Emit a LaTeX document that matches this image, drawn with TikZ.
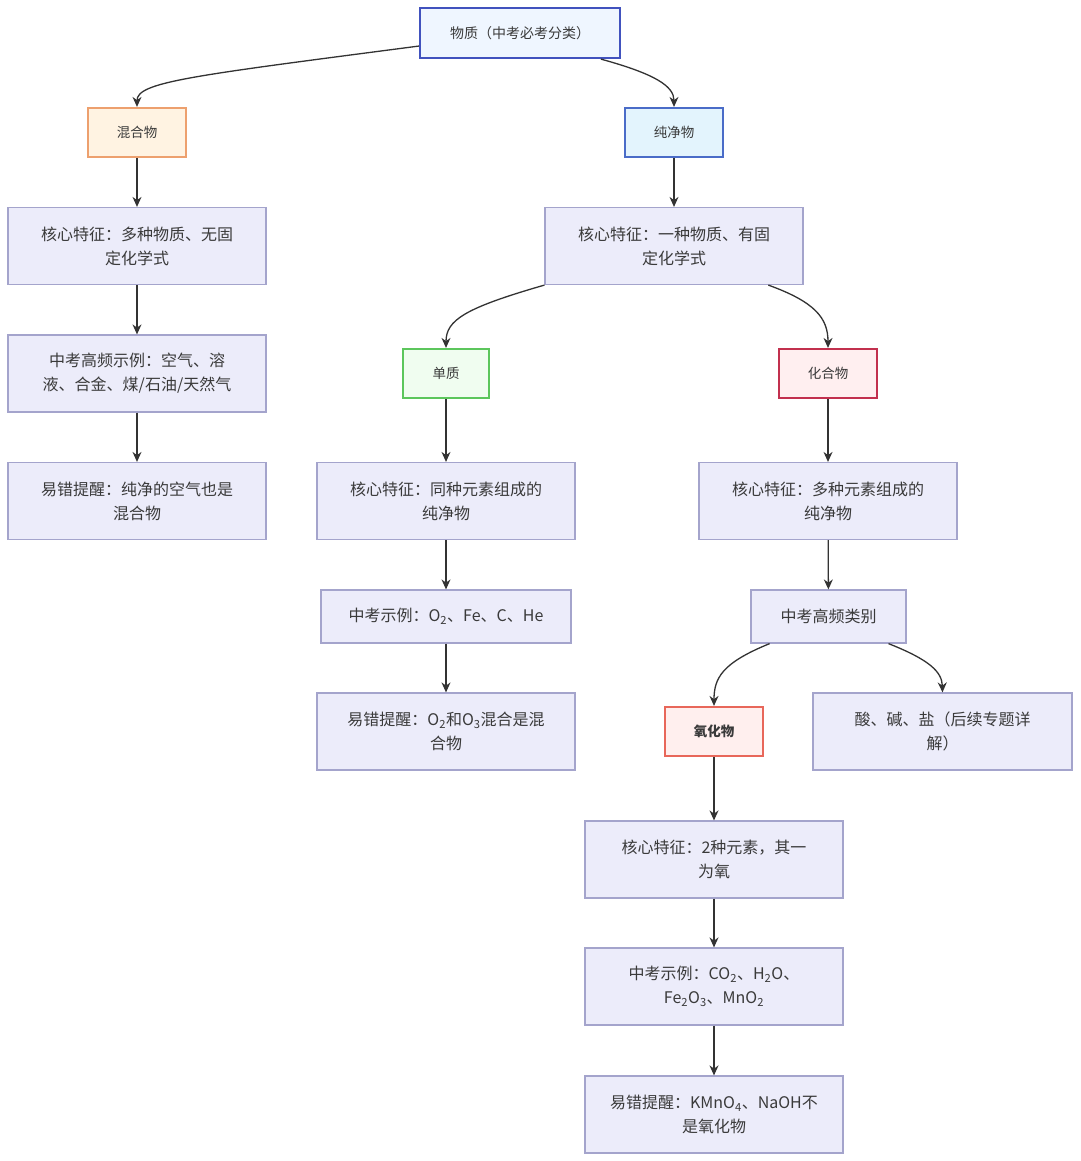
\documentclass[tikz,border=0pt]{standalone}
\usepackage{fontspec}
\setmainfont{Noto Sans CJK SC}
\usetikzlibrary{arrows.meta,calc}
\definecolor{txt}{HTML}{3A3A3A}
\definecolor{deffill}{HTML}{ECECFA}
\definecolor{defdraw}{HTML}{A4A4CC}
\definecolor{topfill}{HTML}{EFF6FF}
\definecolor{topdraw}{HTML}{4152BE}
\definecolor{purefill}{HTML}{E3F4FD}
\definecolor{puredraw}{HTML}{4A6CC8}
\definecolor{mixfill}{HTML}{FFF3E2}
\definecolor{mixdraw}{HTML}{EDA06E}
\definecolor{elemfill}{HTML}{F0FDF0}
\definecolor{elemdraw}{HTML}{5CC65C}
\definecolor{compfill}{HTML}{FFEFF0}
\definecolor{compdraw}{HTML}{C2304E}
\definecolor{oxfill}{HTML}{FFEFEE}
\definecolor{oxdraw}{HTML}{E8675A}
\definecolor{edge}{HTML}{333333}
\newcommand\sbs[1]{\textsubscript{#1}}
\tikzset{
  box/.style={draw=defdraw, fill=deffill, line width=1.2pt, inner sep=0pt,
    minimum width=258pt, minimum height=77pt, align=center, text=txt,
    font=\fontsize{16}{24}\selectfont},
  small/.style={line width=2.2pt, inner sep=0pt, minimum width=98pt,
    minimum height=49pt, align=center, text=txt, font=\fontsize{13.5}{18}\selectfont},
  conn/.style={draw=edge, line width=1.3pt, -{Stealth[length=10pt,width=9pt]}}
}
\begin{document}
\begin{tikzpicture}[x=1pt,y=-1pt]
\path[use as bounding box, fill=white] (0,0) rectangle (1080,1161);
% nodes
\node[small, draw=topdraw, fill=topfill, minimum width=200pt, minimum height=50pt, font=\fontsize{14}{18}\selectfont] (top) at (520,33) {物质（中考必考分类）};
\node[small, draw=mixdraw, fill=mixfill] (mix) at (137,132.5) {混合物};
\node[small, draw=puredraw, fill=purefill] (pure) at (674,132.5) {纯净物};
\node[box] (mixA) at (137,246) {核心特征：多种物质、无固\\定化学式};
\node[box] (mixB) at (137,373.5) {中考高频示例：空气、溶\\液、合金、煤/石油/天然气};
\node[box] (mixC) at (137,501) {易错提醒：纯净的空气也是\\混合物};
\node[box] (pureA) at (674,246) {核心特征：一种物质、有固\\定化学式};
\node[small, draw=elemdraw, fill=elemfill, minimum width=86pt] (elem) at (446,373.5) {单质};
\node[small, draw=compdraw, fill=compfill] (comp) at (828,373.5) {化合物};
\node[box] (elemA) at (446,501) {核心特征：同种元素组成的\\纯净物};
\node[box, minimum width=250pt, minimum height=53pt] (elemB) at (446,616.5) {中考示例：O\sbs{2}、Fe、C、He};
\node[box] (elemC) at (446,731.5) {易错提醒：O\sbs{2}和O\sbs{3}混合是混\\合物};
\node[box] (compA) at (828,501) {核心特征：多种元素组成的\\纯净物};
\node[box, minimum width=155pt, minimum height=53pt] (compB) at (828.5,616.5) {中考高频类别};
\node[small, draw=oxdraw, fill=oxfill, font=\fontsize{13.5}{18}\selectfont\bfseries] (ox) at (714,731.5) {氧化物};
\node[box, minimum width=259pt] (abs) at (942.5,731.5) {酸、碱、盐（后续专题详\\解）};
\node[box] (oxA) at (714,859.5) {核心特征：2种元素，其一\\为氧};
\node[box] (oxB) at (714,986.5) {中考示例：CO\sbs{2}、H\sbs{2}O、\\Fe\sbs{2}O\sbs{3}、MnO\sbs{2}};
\node[box] (oxC) at (714,1114.5) {易错提醒：KMnO\sbs{4}、NaOH不\\是氧化物};
% connectors
\draw[conn] ($(top.west)!0.5!(top.south west)$) .. controls (190,76) and (137,82) .. (mix.north);
\draw[conn] ($(top.south west)!0.9!(top.south east)$) .. controls (655,74) and (674,86) .. (pure.north);
\draw[conn] (mix) -- (mixA);
\draw[conn] (mixA) -- (mixB);
\draw[conn] (mixB) -- (mixC);
\draw[conn] (pure) -- (pureA);
\draw[conn] (pureA.south west) .. controls (465,308) and (446,320) .. (elem.north);
\draw[conn] ($(pureA.south west)!0.864!(pureA.south east)$) .. controls (815,302) and (828,318) .. (comp.north);
\draw[conn] (elem) -- (elemA);
\draw[conn] (elemA) -- (elemB);
\draw[conn] (elemB) -- (elemC);
\draw[conn] (comp) -- (compA);
\draw[conn] (compA) -- (compB);
\draw[conn] ($(compB.south west)!0.123!(compB.south east)$) .. controls (722,663) and (714,678) .. (ox.north);
\draw[conn] ($(compB.south west)!0.884!(compB.south east)$) .. controls (930,660) and (942,672) .. (abs.north);
\draw[conn] (ox) -- (oxA);
\draw[conn] (oxA) -- (oxB);
\draw[conn] (oxB) -- (oxC);
\end{tikzpicture}
\end{document}
